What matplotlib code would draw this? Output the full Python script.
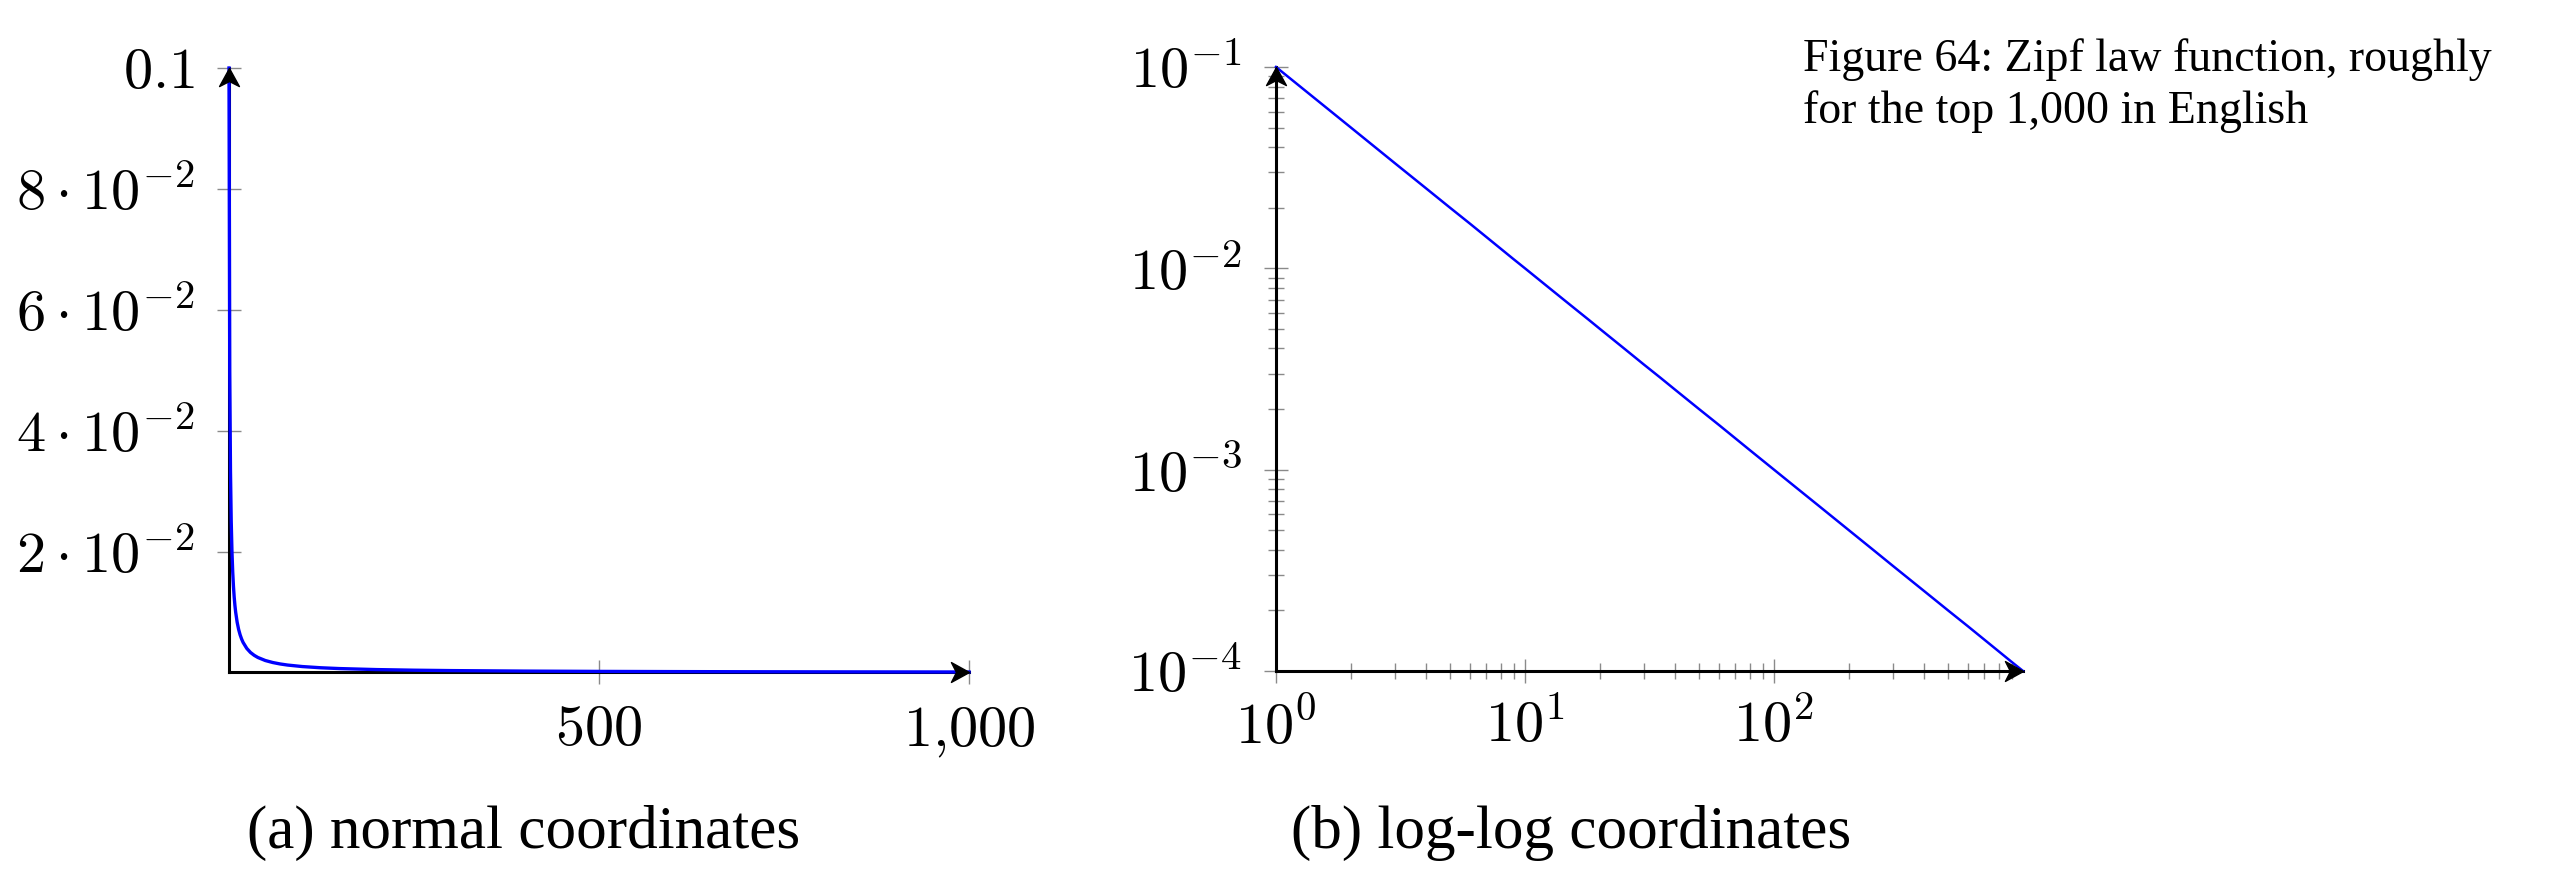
import numpy as np
import matplotlib
matplotlib.use("Agg")
import matplotlib.pyplot as plt
from matplotlib.path import Path
from matplotlib.ticker import FixedLocator, NullFormatter

plt.rcParams['mathtext.fontset'] = 'cm'
plt.rcParams['font.family'] = ['Liberation Serif', 'DejaVu Serif']

# Zipf frequencies (rank -> relative frequency)
ranks = [1, 2, 3, 4, 5, 6, 7, 8, 9, 10, 12, 14, 16, 18, 20, 25, 30, 35, 40,
         50, 60, 70, 80, 100, 125, 150, 200, 250, 300, 400, 500, 600, 700,
         800, 900, 1000]
freqs = [0.1, 0.05, 0.0333, 0.025, 0.02, 0.0167, 0.0143, 0.0125, 0.0111,
         0.01, 0.00833, 0.00714, 0.00625, 0.00556, 0.005, 0.004, 0.00333,
         0.00286, 0.0025, 0.002, 0.00167, 0.00143, 0.00125, 0.001, 0.0008,
         0.000667, 0.0005, 0.0004, 0.000333, 0.00025, 0.0002, 0.000167,
         0.000143, 0.000125, 0.000111, 0.0001]

lin_xticks = [500, 1000]
lin_xlabels = ['$500$', '$1{,}000$']
lin_yticks = [0.02, 0.04, 0.06, 0.08, 0.1]
lin_ylabels = [r'$2\cdot10^{-2}$', r'$4\cdot10^{-2}$', r'$6\cdot10^{-2}$',
               r'$8\cdot10^{-2}$', '$0.1$']
log_xticks = [1, 10, 100]
log_xlabels = ['$10^{0}$', '$10^{1}$', '$10^{2}$']
log_yticks = [1e-4, 1e-3, 1e-2, 1e-1]
log_ylabels = ['$10^{-4}$', '$10^{-3}$', '$10^{-2}$', '$10^{-1}$']

sub_a = '(a) normal coordinates'
sub_b = '(b) log-log coordinates'
caption_lines = ['Figure 64: Zipf law function, roughly',
                 'for the top 1,000 in English']

W, H = 2558, 890
fig = plt.figure(figsize=(W / 100, H / 100), dpi=100)

# stealth style arrow head, tip at origin
stealth = Path([(0, 0), (-1, 0.55), (-0.72, 0), (-1, -0.55), (0, 0)],
               [Path.MOVETO, Path.LINETO, Path.LINETO, Path.LINETO, Path.CLOSEPOLY])
stealth_up = stealth.transformed(matplotlib.transforms.Affine2D().rotate_deg(90))


def box(l, r, t, b):
    return [l / W, 1 - b / H, (r - l) / W, (b - t) / H]


def style_axes(ax):
    for s in ['top', 'right']:
        ax.spines[s].set_visible(False)
    for s in ['left', 'bottom']:
        ax.spines[s].set_linewidth(2.2)
        ax.spines[s].set_color('black')
    ax.tick_params(which='major', direction='inout', length=17, width=1.0,
                   color='#8a8a8a', labelsize=42, pad=16)
    ax.tick_params(which='minor', direction='inout', length=11.5, width=1.0,
                   color='#8a8a8a')
    ax.tick_params(axis='x', which='major', pad=12)
    # arrow heads at the axis ends
    ax.plot([1], [0], marker=stealth, markersize=26, color='black',
            transform=ax.transAxes, clip_on=False, zorder=5)
    ax.plot([0], [1], marker=stealth_up, markersize=26, color='black',
            transform=ax.transAxes, clip_on=False, zorder=5)


# (a) normal coordinates
ax1 = fig.add_axes(box(229, 969, 68, 672))
ax1.plot(ranks, freqs, color='#0000ff', lw=2.4, clip_on=False, zorder=4)
ax1.set_xlim(1, 1000)
ax1.set_ylim(1e-4, 0.1)
ax1.set_xticks(lin_xticks)
ax1.set_xticklabels(lin_xlabels)
ax1.set_yticks(lin_yticks)
ax1.set_yticklabels(lin_ylabels)
style_axes(ax1)
ax1.tick_params(axis='x', which='major', pad=15)

# (b) log-log coordinates
ax2 = fig.add_axes(box(1276, 2023, 67, 671))
ax2.plot(ranks, freqs, color='#0000ff', lw=1.8, clip_on=False, zorder=4)
ax2.set_xscale('log')
ax2.set_yscale('log')
ax2.set_xlim(1, 1000)
ax2.set_ylim(1e-4, 0.1)
ax2.xaxis.set_major_locator(FixedLocator(log_xticks))
ax2.set_xticklabels(log_xlabels)
ax2.xaxis.set_minor_locator(FixedLocator(
    [m * d for d in (1, 10, 100) for m in range(2, 10)]))
ax2.xaxis.set_minor_formatter(NullFormatter())
ax2.yaxis.set_major_locator(FixedLocator(log_yticks))
ax2.set_yticklabels(log_ylabels)
ax2.yaxis.set_minor_locator(FixedLocator(
    [m * d for d in (1e-4, 1e-3, 1e-2) for m in range(2, 10)]))
ax2.yaxis.set_minor_formatter(NullFormatter())
style_axes(ax2)

# sub captions and margin caption
fig.text(524 / W, 1 - 848 / H, sub_a, fontsize=44, ha='center', va='baseline')
fig.text(1571 / W, 1 - 848 / H, sub_b, fontsize=44, ha='center', va='baseline')
for i, line in enumerate(caption_lines):
    fig.text(1803 / W, 1 - (71 + 52 * i) / H, line, fontsize=33,
             ha='left', va='baseline')

fig.savefig('out.png', dpi=100)
